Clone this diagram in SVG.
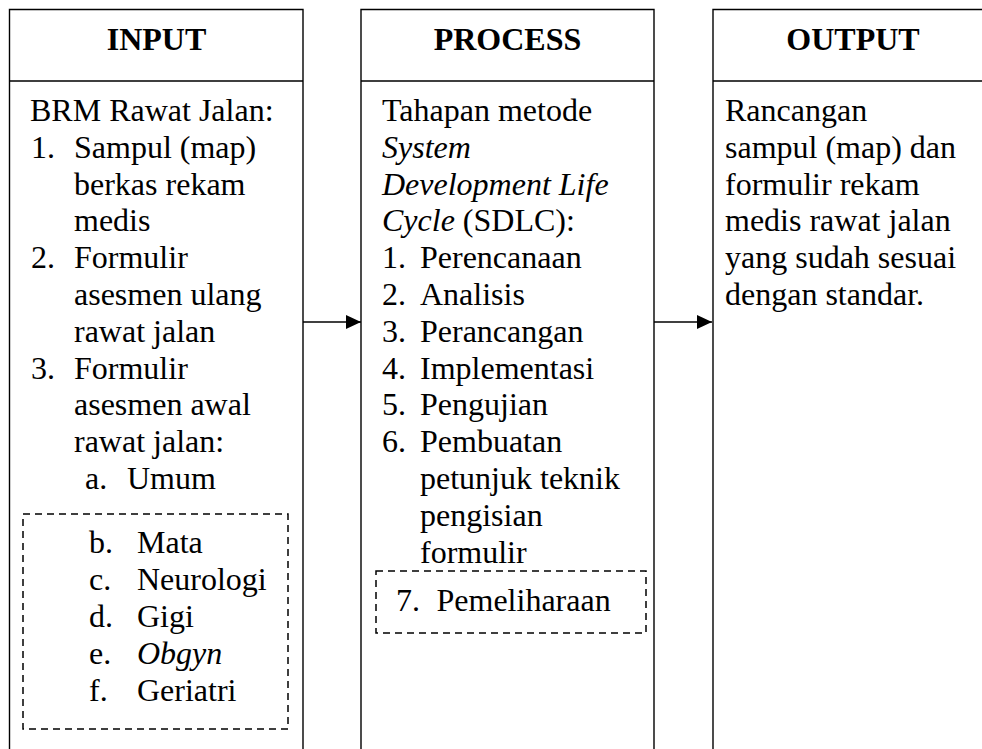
<svg xmlns="http://www.w3.org/2000/svg" width="982" height="749" viewBox="0 0 982 749">
<style>
.box{fill:none;stroke:#000;stroke-width:1.4}
.dash{fill:none;stroke:#000;stroke-width:1.5;stroke-dasharray:7 5}
.t{font-family:"Liberation Serif","Times New Roman",serif;font-size:32px;fill:#000}
.h{font-family:"Liberation Serif","Times New Roman",serif;font-size:32px;font-weight:bold;fill:#000;text-anchor:middle}
.i{font-style:italic}
.conn{stroke:#000;stroke-width:1.6;fill:none}
</style>
<defs>
<marker id="arr" markerWidth="15" markerHeight="15" refX="15" refY="7.5" orient="auto" markerUnits="userSpaceOnUse">
<path d="M0,0.5 L15,7.5 L0,14.5 Z" fill="#000"/>
</marker>
</defs>
<rect width="982" height="749" fill="#fff"/>

<g id="input">
<path class="box" d="M9.5,760 V9.5 H303 V760 M9.5,81 H303"/>
<text class="h" x="156.5" y="50">INPUT</text>
<text class="t" x="30" y="121">BRM Rawat Jalan:</text>
<text class="t" x="31" y="157.8">1.</text><text class="t" x="74" y="157.8">Sampul (map)</text>
<text class="t" x="74" y="194.6">berkas rekam</text>
<text class="t" x="74" y="231.4">medis</text>
<text class="t" x="31" y="268.2">2.</text><text class="t" x="74" y="268.2">Formulir</text>
<text class="t" x="74" y="305">asesmen ulang</text>
<text class="t" x="74" y="341.8">rawat jalan</text>
<text class="t" x="31" y="378.6">3.</text><text class="t" x="74" y="378.6">Formulir</text>
<text class="t" x="74" y="415.4">asesmen awal</text>
<text class="t" x="74" y="452.2">rawat jalan:</text>
<text class="t" x="85" y="489">a.</text><text class="t" x="127" y="489">Umum</text>
<rect class="dash" x="23" y="514" width="265" height="215"/>
<text class="t" x="89" y="553">b.</text><text class="t" x="137" y="553">Mata</text>
<text class="t" x="89" y="590">c.</text><text class="t" x="137" y="590">Neurologi</text>
<text class="t" x="89" y="627">d.</text><text class="t" x="137" y="627">Gigi</text>
<text class="t" x="89" y="664">e.</text><text class="t i" x="137" y="664">Obgyn</text>
<text class="t" x="89" y="701">f.</text><text class="t" x="137" y="701">Geriatri</text>
</g>

<g id="process">
<path class="box" d="M361,760 V9.5 H654 V760 M361,81 H654"/>
<text class="h" x="507.5" y="50">PROCESS</text>
<text class="t" x="382" y="121">Tahapan metode</text>
<text class="t i" x="382" y="157.8">System</text>
<text class="t i" x="382" y="194.6">Development Life</text>
<text class="t" x="382" y="231.4"><tspan class="i">Cycle</tspan> (SDLC):</text>
<text class="t" x="382" y="268.2">1.</text><text class="t" x="420" y="268.2">Perencanaan</text>
<text class="t" x="382" y="305">2.</text><text class="t" x="420" y="305">Analisis</text>
<text class="t" x="382" y="341.8">3.</text><text class="t" x="420" y="341.8">Perancangan</text>
<text class="t" x="382" y="378.6">4.</text><text class="t" x="420" y="378.6">Implementasi</text>
<text class="t" x="382" y="415.4">5.</text><text class="t" x="420" y="415.4">Pengujian</text>
<text class="t" x="382" y="452.2">6.</text><text class="t" x="420" y="452.2">Pembuatan</text>
<text class="t" x="420" y="489">petunjuk teknik</text>
<text class="t" x="420" y="525.8">pengisian</text>
<text class="t" x="420" y="562.6">formulir</text>
<rect class="dash" x="376" y="571" width="270" height="62"/>
<text class="t" x="396" y="611">7.</text><text class="t" x="436.5" y="611">Pemeliharaan</text>
</g>

<g id="output">
<path class="box" d="M713,760 V9.5 H995 M713,81 H995"/>
<text class="h" x="853" y="50">OUTPUT</text>
<text class="t" x="725" y="121">Rancangan</text>
<text class="t" x="725" y="157.8">sampul (map) dan</text>
<text class="t" x="725" y="194.6">formulir rekam</text>
<text class="t" x="725" y="231.4">medis rawat jalan</text>
<text class="t" x="725" y="268.2">yang sudah sesuai</text>
<text class="t" x="725" y="305">dengan standar.</text>
</g>

<g id="connectors">
<line class="conn" x1="303" y1="322" x2="361" y2="322" marker-end="url(#arr)"/>
<line class="conn" x1="654" y1="322" x2="712" y2="322" marker-end="url(#arr)"/>
</g>
</svg>
